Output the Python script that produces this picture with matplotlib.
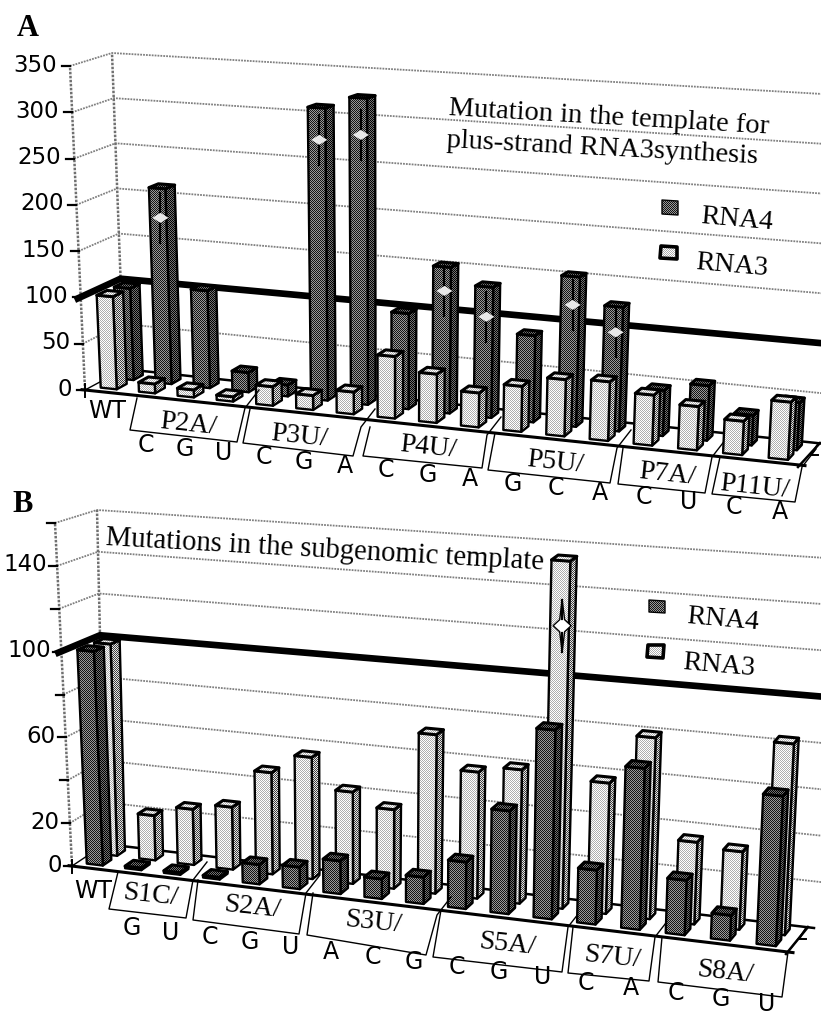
import numpy as np
import matplotlib
matplotlib.use("Agg")
import matplotlib.pyplot as plt
from matplotlib.patches import Polygon

W = 821
H = 1019

# panel A values
labels_a = ["WT", "C", "G", "U", "C", "G", "A", "C", "G", "A", "G", "C", "A", "C", "U", "C", "A"]
rna4_a = [100, 212, 105, 21, 12, 310, 323, 100, 152, 135, 89, 153, 126, 46, 55, 30, 47]
rna3_a = [100, 10, 8, 5, 20, 15, 23, 64, 50, 35, 46, 57, 59, 50, 43, 33, 56]
stars_a = {1: 180, 5: 276, 6: 284, 8: 127, 9: 104, 11: 124, 12: 100}
groups_a = ["P2A/", "P3U/", "P4U/", "P5U/", "P7A/", "P11U/"]
ticks_a = [0, 50, 100, 150, 200, 250, 300, 350]

# panel B values
labels_b = ["WT", "G", "U", "C", "G", "U", "A", "C", "G", "C", "G", "U", "C", "A", "C", "G", "U"]
rna4_b = [100, 1, 1, 1, 9, 10, 15, 9, 12, 21, 46, 84, 24, 71, 24, 11, 65]
rna3_b = [100, 21, 26, 29, 47, 56, 42, 36, 72, 57, 60, 155, 58, 80, 36, 34, 83]
stars_b = {11: 126}
groups_b = ["S1C/", "S2A/", "S3U/", "S5A/", "S7U/", "S8A/"]
ticks_b = [0, 20, 40, 60, 80, 100, 120, 140, 160]
ticklabels_b = [0, 20, 60, 100, 140]

SANS = "DejaVu Sans"
SERIF = "Liberation Serif"

# dither textures, one pixel checker like the printed halftone
yy, xx = np.mgrid[0:H, 0:W]
checker = (xx + yy) % 2


def tex(lo, hi):
    return lo + (hi - lo) * checker


DARK = {"front": tex(0.08, 0.6), "side": tex(0.0, 0.45), "top": tex(0.0, 0.45)}
LIGHT = {"front": tex(0.68, 1.0), "side": tex(0.25, 0.9), "top": tex(0.7, 1.0)}


def make_proj(fl, bl, fr, br, fl_t, bl_t, fr_t, br_t, vmax, n=17, k=0.095):
    fl, bl, fr, br = [np.array(p, float) for p in (fl, bl, fr, br)]
    fl_t, bl_t, fr_t, br_t = [np.array(p, float) for p in (fl_t, bl_t, fr_t, br_t)]

    def proj(t, d, v):
        s = t / n
        u = s * (1 - k) / (1 - k * s)
        floor = (1 - d) * ((1 - u) * fl + u * fr) + d * ((1 - u) * bl + u * br)
        top = (1 - d) * ((1 - u) * fl_t + u * fr_t) + d * ((1 - u) * bl_t + u * br_t)
        return floor + (top - floor) * v / vmax

    return proj


def face(ax, pts, texture, z, lw=1.7):
    pts = np.array(pts)
    x0 = max(int(pts[:, 0].min()) - 1, 0)
    x1 = min(int(pts[:, 0].max()) + 2, W)
    y0 = max(int(pts[:, 1].min()) - 1, 0)
    y1 = min(int(pts[:, 1].max()) + 2, H)
    poly = Polygon(pts, closed=True, fc="none", ec="black", lw=lw, zorder=z + 0.1, joinstyle="round")
    ax.add_patch(poly)
    im = ax.imshow(texture[y0:y1, x0:x1], extent=(x0, x1, y1, y0), cmap="gray", vmin=0, vmax=1,
                   interpolation="nearest", aspect="auto", zorder=z)
    im.set_clip_path(poly)


def bar(ax, proj, t, d0, d1, v, pal, z):
    t0 = t + 0.25
    t1 = t + 0.67
    front = [proj(t0, d0, 0), proj(t1, d0, 0), proj(t1, d0, v), proj(t0, d0, v)]
    side = [proj(t1, d0, 0), proj(t1, d1, 0), proj(t1, d1, v), proj(t1, d0, v)]
    top = [proj(t0, d0, v), proj(t1, d0, v), proj(t1, d1, v), proj(t0, d1, v)]
    face(ax, side, pal["side"], z)
    face(ax, front, pal["front"], z + 0.2)
    face(ax, top, pal["top"], z + 0.4, lw=2.2)


def star(ax, x, y, light_bar, z):
    if light_bar:
        pts = [(x, y - 26), (x + 2.5, y - 6), (x + 9, y), (x + 2.5, y + 6), (x, y + 26),
               (x - 2.5, y + 6), (x - 9, y), (x - 2.5, y - 6)]
        ax.add_patch(Polygon(pts, closed=True, fc="white", ec="black", lw=1.0, zorder=z))
        ax.plot([x, x], [y - 26, y - 7], color="black", lw=1.6, zorder=z + 0.1)
        ax.plot([x, x], [y + 7, y + 26], color="black", lw=1.6, zorder=z + 0.1)
    else:
        ax.plot([x, x], [y - 25, y + 25], color="black", lw=1.6, zorder=z)
        pts = [(x - 8, y), (x, y - 5), (x + 8, y), (x, y + 5)]
        ax.add_patch(Polygon(pts, closed=True, fc="#e8e8e8", ec="none", zorder=z + 0.1))


def chart(ax, proj, vmax, ticks, ticklabels, back, front, back_pal, front_pal, stars,
          labels, label_dy, wt_dy, label_dx, tick_gap):
    grid = dict(color="#808080", lw=1.3, ls=(0, (1, 0.6)), zorder=1)
    n = len(labels)
    # walls
    for v in ticks:
        a = proj(0, 0, v)
        b = proj(0, 1, v)
        c = proj(n + 0.6, 1, v)
        if v > 0:
            ax.plot([a[0], b[0], c[0]], [a[1], b[1], c[1]], **grid)
        ax.plot([a[0] - 8, a[0]], [a[1], a[1]], color="black", lw=1.6, zorder=3)
        if v in ticklabels:
            ax.text(a[0] - tick_gap, a[1] - 1, str(v), ha="right", va="center", fontsize=16.5, family=SANS, zorder=5)
    for d in (0, 1):
        a = proj(0, d, 0)
        b = proj(0, d, vmax)
        ax.plot([a[0], b[0]], [a[1], b[1]], color="#707070", lw=1.8, ls=(0, (1, 0.6)), zorder=1)

    # floor
    fl = proj(0, 0, 0)
    bl = proj(0, 1, 0)
    fr = proj(n, 0, 0)
    br = proj(n, 1, 0)
    ax.plot([fl[0], bl[0]], [fl[1], bl[1]], color="black", lw=1.0, zorder=2)
    ax.plot([bl[0], br[0] + 6], [bl[1], br[1] + 1], color="black", lw=1.8, zorder=2)
    ax.plot([fr[0] - 2, br[0]], [fr[1] + 2, br[1]], color="black", lw=1.8, zorder=2)
    ax.plot([fl[0] - 3, fr[0] + 5], [fl[1] - 0.3, fr[1] + 0.6], color="black", lw=2.2, zorder=30)
    ax.plot([fl[0], fl[0]], [fl[1] - 6, fl[1] + 7], color="black", lw=1.4, zorder=30)
    ax.plot([br[0] - 2, br[0] - 9, br[0] - 2], [br[1] + 1, br[1] + 12, br[1] + 12], color="black", lw=1.4, zorder=2)

    # the thick line at 100 percent
    a = proj(0, 0, 100)
    b = proj(0, 1, 100)
    c = proj(n + 0.6, 1, 100)
    ax.plot([a[0] - 3, b[0], c[0]], [a[1] + 1, b[1], c[1]], color="black", lw=4.8, zorder=2, solid_joinstyle="miter")

    # back row first, then front row
    z = 4
    for i, v in enumerate(back):
        bar(ax, proj, i, 0.6, 0.84, v, back_pal, z)
        z += 1
    for i, v in enumerate(front):
        bar(ax, proj, i, 0.16, 0.42, v, front_pal, z)
        z += 1
    for i, v in stars.items():
        p = proj(i + 0.52, 0.6, v)
        star(ax, p[0], p[1], back_pal is LIGHT, 4 + i + 0.8)

    # category letters under the axis
    for i, lab in enumerate(labels):
        p = proj(i + 0.5, 0, 0)
        dy = wt_dy if i == 0 else label_dy
        ax.text(p[0] + label_dx, p[1] + dy, lab, ha="center", va="center", fontsize=17, family=SANS, zorder=31)


def group_boxes(ax, boxes, names, centers, rot):
    for pts, name, c in zip(boxes, names, centers):
        (x0, y0), (x1, y1), (x2, y2), (x3, y3) = pts
        ax.plot([x0, x1, x2, x3, x3 + 14], [y0, y1, y2, y3, y3 - 18], color="black", lw=1.0, zorder=32)
        ax.text(c[0], c[1], name, ha="center", va="center", rotation=rot, rotation_mode="anchor",
                fontsize=20, family=SERIF, zorder=33)


def legend(ax, dark_box, light_box, dark_txt, light_txt):
    face(ax, dark_box, DARK["front"], 40, lw=1.0)
    face(ax, light_box, LIGHT["front"], 40, lw=2.6)
    for txt, c in ((("RNA4"), dark_txt), (("RNA3"), light_txt)):
        ax.text(c[0], c[1], txt, ha="center", va="center", rotation=-5, rotation_mode="anchor",
                fontsize=20, family=SERIF, zorder=41)


fig = plt.figure(figsize=(W / 100, H / 100), dpi=100)
ax = fig.add_axes([0, 0, 1, 1])

proj_a = make_proj((85, 390), (124, 369), (800, 465), (820, 443),
                   (70, 66), (112, 53), (820, 101), (840, 95), 350)
chart(ax, proj_a, 350, ticks_a, ticks_a, rna4_a, rna3_a, DARK, LIGHT, stars_a,
      labels_a, 49, 19, 3, 13)

boxes_a = [
    [(137, 398), (130, 430), (237, 442), (245, 408)],
    [(250, 409), (243, 443), (353, 456), (361, 427)],
    [(370, 427), (363, 456), (482, 468), (487, 435)],
    [(495, 433), (488, 470), (610, 483), (617, 448)],
    [(623, 448), (618, 484), (705, 493), (712, 457)],
    [(720, 457), (712, 494), (795, 502), (802, 467)],
]
centers_a = [(188, 425), (299, 437), (428, 448), (555, 463), (667, 475), (755, 487)]
group_boxes(ax, boxes_a, groups_a, centers_a, -6)

proj_b = make_proj((72, 866), (105, 844), (788, 952), (808, 927),
                   (55, 523), (97, 510), (806, 582), (826, 558), 160)
chart(ax, proj_b, 160, ticks_b, ticklabels_b, rna3_b, rna4_b, LIGHT, DARK, stars_b,
      labels_b, 55, 23, 2, 10)

boxes_b = [
    [(118, 872), (109, 909), (186, 918), (193, 880)],
    [(198, 880), (193, 920), (299, 934), (306, 893)],
    [(313, 893), (307, 935), (426, 955), (437, 915)],
    [(441, 910), (433, 957), (562, 972), (568, 927)],
    [(573, 927), (568, 973), (649, 981), (655, 937)],
    [(662, 937), (658, 982), (782, 997), (788, 952)],
]
centers_b = [(150, 895), (252, 908), (373, 923), (507, 945), (612, 958), (725, 973)]
group_boxes(ax, boxes_b, groups_b, centers_b, -6)

# titles and panel letters
ax.text(17, 36, "A", fontsize=22, fontweight="bold", family=SERIF, va="baseline", zorder=50)
ax.text(12, 512, "B", fontsize=22, fontweight="bold", family=SERIF, va="baseline", zorder=50)
ax.text(448, 115, "Mutation in the template for", fontsize=20.5, family=SERIF, rotation=-3.3,
        rotation_mode="anchor", va="baseline", zorder=50)
ax.text(446, 147, "plus-strand RNA3synthesis", fontsize=20.5, family=SERIF, rotation=-3.0,
        rotation_mode="anchor", va="baseline", zorder=50)
ax.text(105, 545, "Mutations in the subgenomic template", fontsize=20.6, family=SERIF, rotation=-3.2,
        rotation_mode="anchor", va="baseline", zorder=50)

legend(ax, [(662, 200), (678, 201), (678, 215), (662, 214)], [(661, 246), (677, 247), (677, 259), (660, 258)],
       (737, 220), (732, 266))
legend(ax, [(649, 600), (665, 601), (665, 613), (649, 612)], [(648, 645), (664, 645), (663, 658), (647, 657)],
       (723, 620), (719, 666))

ax.set_xlim(0, W)
ax.set_ylim(H, 0)
ax.axis("off")
fig.savefig("out.png", dpi=100)
